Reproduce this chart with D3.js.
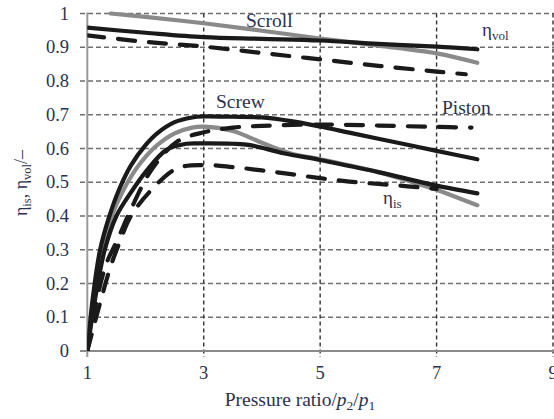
<!DOCTYPE html>
<html><head><meta charset="utf-8">
<script src="https://cdn.jsdelivr.net/npm/d3@7"></script>
<style>body{margin:0;background:#fff}text{font-family:"Liberation Serif","Times New Roman",serif;fill:#2b3250}</style>
</head><body><svg id="c" width="554" height="419"></svg>
<script>
const xTicks=[1,3,5,7,9];
const yTicks=[0,0.1,0.2,0.3,0.4,0.5,0.6,0.7,0.8,0.9,1];
const yTickLabels=["0","0.1","0.2","0.3","0.4","0.5","0.6","0.7","0.8","0.9","1"];

// volumetric efficiency
const volBlackX=[1,2,3,4,5,6,7,7.7];
const volBlackY=[0.958,0.943,0.93,0.925,0.92,0.91,0.902,0.894];
const volGreyX=[1.4,2,3,4,5,6,7,7.7];
const volGreyY=[1.0,0.99,0.971,0.949,0.926,0.905,0.882,0.854];
const volDashX=[1,2,3,4,5,6,7,7.5];
const volDashY=[0.935,0.916,0.902,0.883,0.864,0.845,0.828,0.82];

// isentropic efficiency
const isTopX=[1,1.1,1.22,1.38,1.55,1.75,2,2.2,2.5,2.8,3,3.5,4,4.5,5,5.5,6,6.5,7,7.7];
const isTopY=[0,0.165,0.3,0.4,0.48,0.55,0.61,0.645,0.678,0.692,0.695,0.694,0.692,0.681,0.665,0.647,0.629,0.611,0.593,0.568];
const isGreyX=[1,1.12,1.25,1.42,1.6,1.8,2,2.2,2.5,2.8,3,3.5,4,4.5,5,5.5,6,6.5,7,7.7];
const isGreyY=[0,0.16,0.3,0.4,0.47,0.53,0.575,0.61,0.645,0.662,0.665,0.652,0.617,0.585,0.568,0.55,0.53,0.505,0.478,0.432];
const isLowX=[1,1.14,1.3,1.5,1.75,2,2.36,2.7,3,3.5,3.8,4.37,5,5.5,6,6.5,7,7.7];
const isLowY=[0,0.16,0.3,0.4,0.47,0.53,0.596,0.614,0.615,0.614,0.61,0.586,0.566,0.548,0.53,0.51,0.49,0.467];
const isPistonX=[1,1.16,1.33,1.52,1.75,2.1,2.54,3,3.5,4,5,6,7,7.6];
const isPistonY=[0,0.15,0.26,0.33,0.42,0.536,0.62,0.648,0.662,0.667,0.671,0.668,0.664,0.662];
const isDashLowX=[1,1.2,1.4,1.55,1.75,2.1,2.54,3,3.5,4,4.5,5,5.5,6,6.5,7];
const isDashLowY=[0,0.13,0.25,0.32,0.4,0.477,0.541,0.551,0.545,0.535,0.524,0.512,0.502,0.495,0.488,0.48];

const svg=d3.select("#c");
const x=d3.scaleLinear().domain([1,9]).range([87.3,553]);
const y=d3.scaleLinear().domain([0,1]).range([351,13.5]);

svg.append("defs").append("clipPath").attr("id","clip").append("rect")
  .attr("x",x(1)).attr("y",y(1)-3).attr("width",554-x(1)).attr("height",y(0)-y(1)+3);

// horizontal grid
svg.append("g").selectAll("line").data(yTicks.filter(d=>d>0)).join("line")
  .attr("x1",80).attr("x2",554).attr("y1",d=>y(d)).attr("y2",d=>y(d))
  .attr("stroke","#6e6e6e").attr("stroke-width",1.4).attr("stroke-dasharray","5,3");
// vertical grid
svg.append("g").selectAll("line").data(xTicks.filter(d=>d>1)).join("line")
  .attr("x1",d=>x(d)).attr("x2",d=>x(d)).attr("y1",y(1)).attr("y2",357)
  .attr("stroke","#333").attr("stroke-width",1.4).attr("stroke-dasharray","4,3");
svg.append("line").attr("x1",80).attr("x2",87).attr("y1",y(0)).attr("y2",y(0)).attr("stroke","#888").attr("stroke-width",1.5);
// axes
svg.append("line").attr("x1",x(1)).attr("x2",x(1)).attr("y1",y(1)-1).attr("y2",357).attr("stroke","#9a9a9a").attr("stroke-width",2);
svg.append("line").attr("x1",80).attr("x2",554).attr("y1",y(0)).attr("y2",y(0)).attr("stroke","#8a8a8a").attr("stroke-width",2.2);

// tick labels
svg.append("g").selectAll("text").data(yTicks).join("text")
  .attr("x",69).attr("y",d=>y(d)+6).attr("text-anchor","end").attr("font-size",18.5)
  .text((d,i)=>yTickLabels[i]);
svg.append("g").selectAll("text").data(xTicks).join("text")
  .attr("x",d=>x(d)).attr("y",379).attr("text-anchor","middle").attr("font-size",18.5)
  .text(d=>d);

// axis titles
const xt=svg.append("text").attr("x",300).attr("y",406).attr("text-anchor","middle").attr("font-size",19.5);
xt.append("tspan").text("Pressure ratio/");
xt.append("tspan").attr("font-style","italic").text("p");
xt.append("tspan").attr("font-size",13.5).attr("dy",4).text("2");
xt.append("tspan").attr("dy",-4).text("/");
xt.append("tspan").attr("font-style","italic").text("p");
xt.append("tspan").attr("font-size",13.5).attr("dy",4).text("1");

const yt=svg.append("text").attr("transform","translate(27,183) rotate(-90)").attr("text-anchor","middle").attr("font-size",18);
yt.append("tspan").text("η");
yt.append("tspan").attr("font-size",12.5).attr("dy",4).text("is");
yt.append("tspan").attr("dy",-4).text(", η");
yt.append("tspan").attr("font-size",12.5).attr("dy",4).text("vol");
yt.append("tspan").attr("dy",-4).text("/–");

// curves
const line=d3.line().x(d=>x(d[0])).y(d=>y(d[1])).curve(d3.curveCatmullRom.alpha(0.5));
const zip=(a,b)=>a.map((v,i)=>[v,b[i]]);
const series=[
  {xs:volGreyX,ys:volGreyY,c:"#8a8a8a",dash:null},
  {xs:isGreyX,ys:isGreyY,c:"#8a8a8a",dash:null},
  {xs:volBlackX,ys:volBlackY,c:"#1a1a1a",dash:null},
  {xs:volDashX,ys:volDashY,c:"#1a1a1a",dash:"17,14"},
  {xs:isTopX,ys:isTopY,c:"#1a1a1a",dash:null},
  {xs:isLowX,ys:isLowY,c:"#1a1a1a",dash:null},
  {xs:isPistonX,ys:isPistonY,c:"#1a1a1a",dash:"17,14"},
  {xs:isDashLowX,ys:isDashLowY,c:"#1a1a1a",dash:"17,14"}
];
const g=svg.append("g").attr("clip-path","url(#clip)");
g.selectAll("path").data(series).join("path")
  .attr("d",s=>line(zip(s.xs,s.ys))).attr("fill","none")
  .attr("stroke",s=>s.c).attr("stroke-width",4.2).attr("stroke-linecap","round")
  .attr("stroke-dasharray",s=>s.dash);

// annotations
svg.append("text").attr("x",246).attr("y",27).attr("font-size",19.5).text("Scroll");
svg.append("text").attr("x",216).attr("y",108).attr("font-size",19.5).text("Screw");
svg.append("text").attr("x",442).attr("y",114).attr("font-size",19.5).text("Piston");
const a1=svg.append("text").attr("x",482).attr("y",36).attr("font-size",19);
a1.append("tspan").text("η");
a1.append("tspan").attr("font-size",13).attr("dy",4).text("vol");
const a2=svg.append("text").attr("x",383).attr("y",204).attr("font-size",19);
a2.append("tspan").text("η");
a2.append("tspan").attr("font-size",13).attr("dy",4).text("is");
</script></body></html>
